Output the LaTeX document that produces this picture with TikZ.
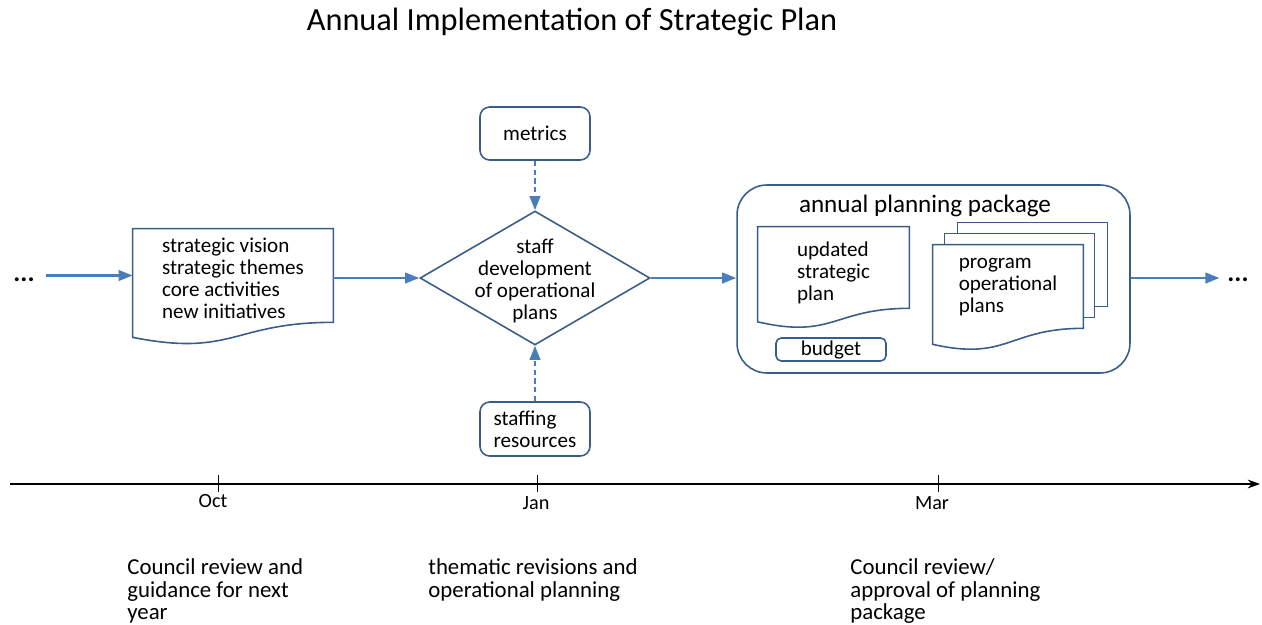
\documentclass[tikz,border=0pt]{standalone}
\usepackage{fontspec}
\setmainfont{Carlito}
\usepackage{tikz}
\usetikzlibrary{arrows.meta,shapes.geometric,calc}
\definecolor{boxline}{RGB}{56,93,138}
\definecolor{flowline}{RGB}{74,126,187}

\tikzset{
  boxtext/.style={font=\fontsize{12}{12.5}\selectfont, align=left},
  docnode/.style={inner sep=0pt},
  docline/.style={draw=boxline, line width=0.9pt},
  roundbox/.style={boxtext, draw=boxline, line width=0.9pt, inner sep=0pt},
  flow/.style={draw=flowline, line width=1.3pt, -{Triangle[length=8pt,width=6pt]}},
  feed/.style={flow, dash pattern=on 3pt off 2pt},
  dots/.style={font=\fontsize{15}{15}\bfseries},
  monthlabel/.style={font=\fontsize{11.5}{13}\selectfont},
  notetext/.style={font=\fontsize{13}{13}\selectfont, align=left, anchor=north west, inner sep=0pt}
}

% document outline: node, drop of the left end, drop of the second control point
\newcommand{\docoutline}[3]{%
  \draw[docline] ($(#1.south west)+(0,#2)$) -- (#1.north west) -- (#1.north east) -- (#1.south east)
    .. controls (#1.south) and ($(#1.south)+(0,#3)$) .. ($(#1.south west)+(0,#2)$) -- cycle;}

\begin{document}
\begin{tikzpicture}[x=0.02cm, y=-0.02cm]
  \useasboundingbox (0,0) rectangle (1262,625);

  \node (title) [font=\fontsize{18.4}{20}\selectfont] at (572,22) {Annual Implementation of Strategic Plan};

  \node (leftdots) [dots] at (24,280) {...};
  \node (rightdots) [dots] at (1238,280) {...};

  \node (vision) [docnode, minimum width=4cm, minimum height=1.86cm] at (233,275.5) {};
  \docoutline{vision}{15}{35}
  \node (visiontext) [boxtext] at ($(vision)+(0,2.5)$) {strategic vision\\strategic themes\\core activities\\new initiatives};

  \node (dev) [diamond, draw=boxline, line width=0.9pt, minimum width=4.6cm, minimum height=2.68cm, inner sep=0pt] at (535,278) {};
  \node (devtext) [boxtext, align=center] at ($(dev)+(0,2.5)$) {staff\\development\\of operational\\plans};

  \node (metrics) [roundbox, rounded corners=5.5pt, minimum width=2.2cm, minimum height=1.06cm] at (535,133.5) {metrics};
  \node (staffing) [roundbox, rounded corners=5.5pt, minimum width=2.2cm, minimum height=1.08cm] at (535,429) {staffing\\resources};

  \node (package) [draw=boxline, line width=0.9pt, rounded corners=17pt, minimum width=7.86cm, minimum height=3.76cm] at (933.5,279) {};
  \node (packagetitle) [font=\fontsize{14.3}{16}\selectfont] at (925,206) {annual planning package};

  \node (updated) [docnode, minimum width=3.02cm, minimum height=1.62cm] at (833.5,267.5) {};
  \docoutline{updated}{13.5}{31}
  \node (updatedtext) [boxtext] at ($(updated)+(0,5)$) {updated\\strategic\\plan};
  \node (budget) [roundbox, rounded corners=3pt, minimum width=2.2cm, minimum height=0.46cm] at (831,349.5) {budget};

  \node (plans) [docnode, minimum width=3cm, minimum height=1.66cm] at (1008,286.5) {};
  \docoutline{plans}{16}{33}
  \draw[docline] ($(plans.north west)+(25,-11)$) -- ++(0,-11) -- ++(150,0) -- ++(0,84) -- ++(-13,0);
  \draw[docline] ($(plans.north west)+(12,0)$) -- ++(0,-11) -- ++(150,0) -- ++(0,84) -- ++(-12,0);
  \node (planstext) [boxtext] at ($(plans)+(0,0.5)$) {program\\operational\\plans};

  \draw[flow, shorten <=3pt] (leftdots.east |- vision.west) -- (vision.west);
  \draw[flow] (vision.east |- dev.west) -- (dev.west);
  \draw[flow] (dev.east) -- (dev.east -| package.west);
  \draw[flow, shorten >=1pt] (package.east |- dev.east) -- (rightdots.west |- dev.east);
  \draw[feed] (metrics) -- (dev.north);
  \draw[feed] (staffing) -- (dev.south);

  \coordinate (tlstart) at (10,484);
  \coordinate (tlend) at (1260,484);
  \draw[line width=0.8pt, -{Stealth[length=7pt,width=5pt]}] (tlstart) -- (tlend);
  \foreach \x in {218,537,938}
    \draw[line width=0.5pt] (\x,475) -- (\x,492);

  \node (oct) [monthlabel] at (213,501) {Oct};
  \node (jan) [monthlabel] at (536,503) {Jan};
  \node (mar) [monthlabel] at (932,503) {Mar};

  \node (noteoct) [notetext] at (127,558) {Council review and\\guidance for next\\year};
  \node (notejan) [notetext] at (428,558) {thematic revisions and\\operational planning};
  \node (notemar) [notetext] at (850,558) {Council review/\\approval of planning\\package};
\end{tikzpicture}
\end{document}
